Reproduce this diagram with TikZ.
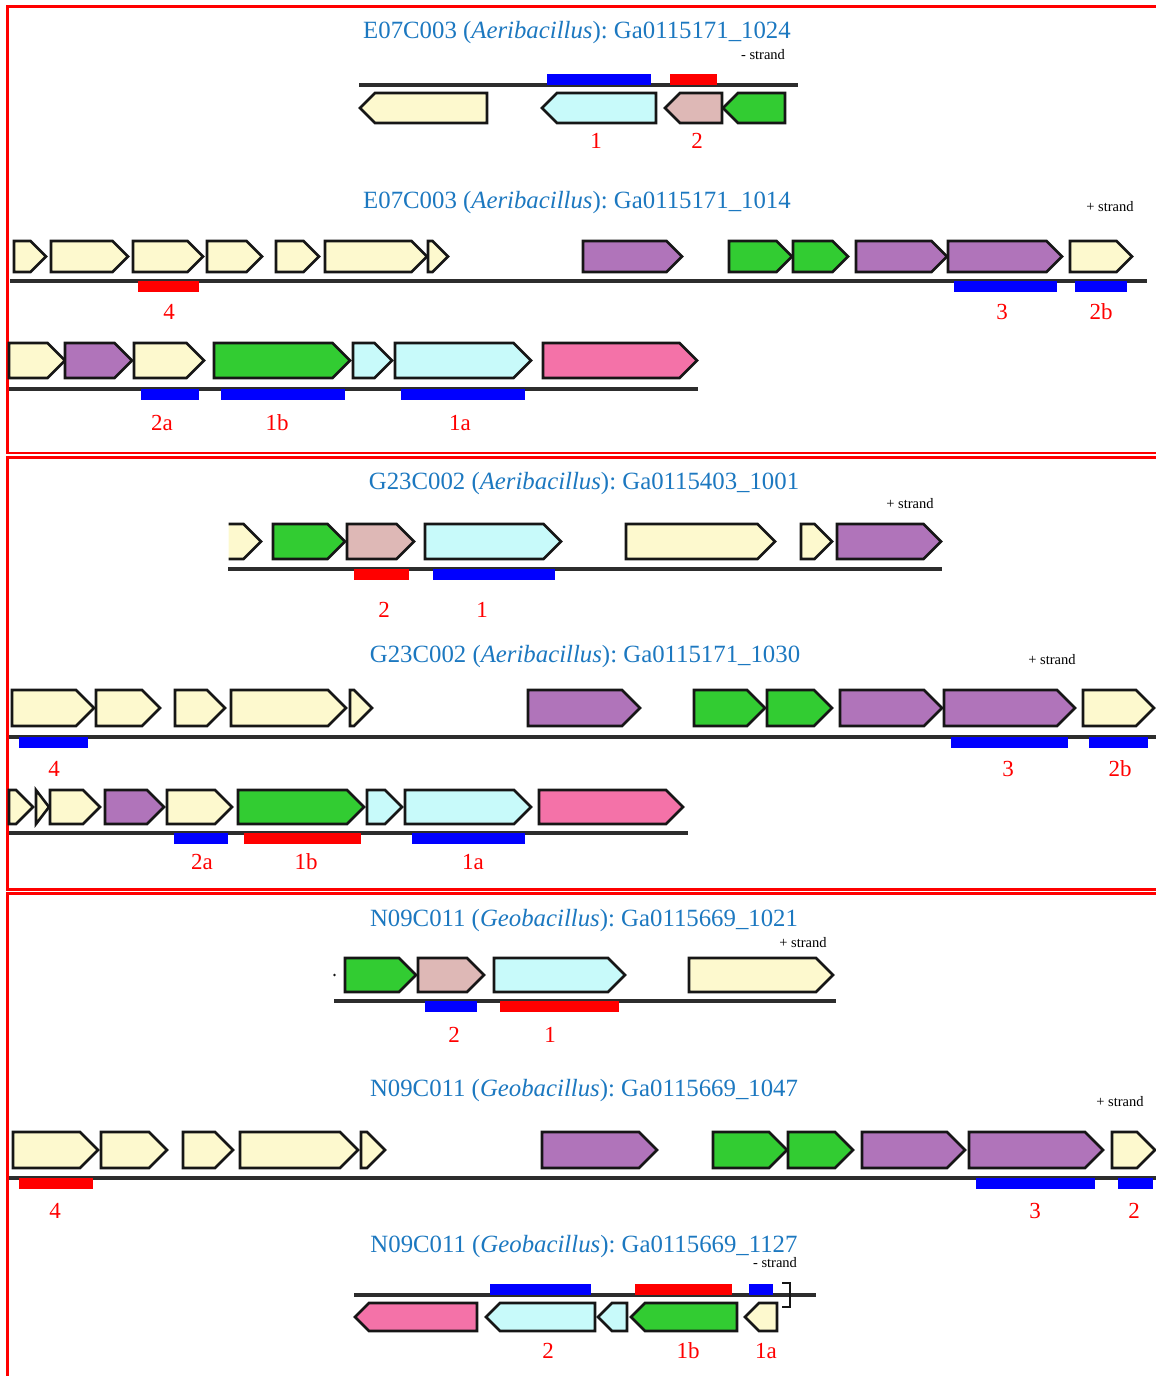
\documentclass[tikz,border=0pt]{standalone}
\usepackage{fontspec}
\setmainfont{Liberation Serif}
\frenchspacing

% gene fill colours
\definecolor{gyel}{RGB}{253,249,206}
\definecolor{gcyn}{RGB}{200,250,250}
\definecolor{gros}{RGB}{222,184,182}
\definecolor{ggrn}{RGB}{50,204,50}
\definecolor{gpur}{RGB}{176,116,186}
\definecolor{gmag}{RGB}{244,114,168}
% text and marks
\definecolor{ttl}{RGB}{28,120,192}
\definecolor{framered}{RGB}{255,0,0}
\definecolor{hitblue}{RGB}{0,0,255}
\definecolor{hitred}{RGB}{255,0,0}
\definecolor{edge}{RGB}{22,22,22}
\definecolor{contigc}{RGB}{45,45,45}

\tikzset{
  geneshape/.style={draw=edge, line width=2.6pt, line join=miter},
  contig/.style={draw=contigc, line width=3.4pt},
  title/.style={text=ttl, font=\fontsize{24.8}{28}\selectfont, inner sep=0pt},
  hitlabel/.style={text=hitred, font=\fontsize{23}{26}\selectfont, inner sep=0pt},
  strandlabel/.style={text=black, font=\fontsize{14.5}{16}\selectfont, inner sep=0pt},
  boxline/.style={draw=framered, line width=2.6pt},
}

% forward gene: x1, x2, top, height, colour
\newcommand\genefwd[5]{%
  \pgfmathsetmacro\gHead{min(#4/2,#2-#1)}%
  \draw[geneshape,fill=#5] (#1,#3) -- ({#2-\gHead},#3) -- (#2,{#3+#4/2})
     -- ({#2-\gHead},{#3+#4}) -- (#1,{#3+#4}) -- cycle;}
% reverse gene: x1 (tip), x2, top, height, colour
\newcommand\generev[5]{%
  \pgfmathsetmacro\gHead{min(#4/2,#2-#1)}%
  \draw[geneshape,fill=#5] (#1,{#3+#4/2}) -- ({#1+\gHead},#3) -- (#2,#3)
     -- (#2,{#3+#4}) -- ({#1+\gHead},{#3+#4}) -- cycle;}
% hit bar: x1, x2, top, colour
\newcommand\hitbar[4]{\fill[#4] (#1,#3) rectangle (#2,{#3+11});}

\begin{document}
\begin{tikzpicture}[x=1pt,y=-1pt]
\useasboundingbox (0,0) rectangle (1156,1376);
\clip (0,0) rectangle (1156,1376);

% ---------- panel frames ----------
\draw[boxline] (1180,6.5) -- (7.5,6.5) -- (7.5,453) -- (1180,453);
\draw[boxline] (1180,457.5) -- (7.5,457.5) -- (7.5,889.5) -- (1180,889.5);
\draw[boxline] (1180,893.5) -- (7.5,893.5) -- (7.5,1400);

% ================= panel 1 =================
\node[title] (t1) at (577,33) {E07C003 (\textit{Aeribacillus}): Ga0115171\_1024};
\node[strandlabel] (s1) at (763,55) {- strand};
\draw[contig] (359,85) -- (798,85);
\hitbar{547}{651}{74}{hitblue}
\hitbar{670}{717}{74}{hitred}
\foreach \a/\b/\c in {360/487/gyel,542/656/gcyn,665/722/gros,723/785/ggrn}
  \generev{\a}{\b}{93}{30}{\c};
\node[hitlabel] (p1a) at (596,141) {1};
\node[hitlabel] (p1b) at (697,141) {2};

\node[title] (t2) at (577,203) {E07C003 (\textit{Aeribacillus}): Ga0115171\_1014};
\node[strandlabel] (s2) at (1110,207) {+ strand};
\foreach \a/\b/\c in {14/46/gyel,51/128/gyel,133/203/gyel,207/262/gyel,276/319/gyel,
    325/427/gyel,428/448/gyel,583/682/gpur,729/792/ggrn,793/848/ggrn,856/947/gpur,
    948/1062/gpur,1070/1132/gyel}
  \genefwd{\a}{\b}{241}{31}{\c};
\draw[contig] (10,281) -- (1147,281);
\hitbar{138}{199}{281}{hitred}
\hitbar{954}{1057}{281}{hitblue}
\hitbar{1075}{1127}{281}{hitblue}
\node[hitlabel] (p2a) at (169,312) {4};
\node[hitlabel] (p2b) at (1002,312) {3};
\node[hitlabel] (p2c) at (1101,312) {2b};

\foreach \a/\b/\c in {9/65/gyel,65/132/gpur,134/204/gyel,214/350/ggrn,353/392/gcyn,
    395/531/gcyn,543/697/gmag}
  \genefwd{\a}{\b}{343}{35}{\c};
\draw[contig] (9,389) -- (698,389);
\hitbar{141}{199}{389}{hitblue}
\hitbar{221}{345}{389}{hitblue}
\hitbar{401}{525}{389}{hitblue}
\node[hitlabel] (p3a) at (162,423) {2a};
\node[hitlabel] (p3b) at (277,423) {1b};
\node[hitlabel] (p3c) at (460,423) {1a};

% ================= panel 2 =================
\node[title] (t3) at (584,484) {G23C002 (\textit{Aeribacillus}): Ga0115403\_1001};
\node[strandlabel] (s3) at (910,504) {+ strand};
\begin{scope}
  \clip (228.5,500) rectangle (300,600);
  \genefwd{215}{261}{524}{35}{gyel}
\end{scope}
\foreach \a/\b/\c in {273/345/ggrn,347/414/gros,425/561/gcyn,626/775/gyel,801/832/gyel,
    837/941/gpur}
  \genefwd{\a}{\b}{524}{35}{\c};
\draw[contig] (228,569) -- (942,569);
\hitbar{354}{409}{569}{hitred}
\hitbar{433}{555}{569}{hitblue}
\node[hitlabel] (p4a) at (384,610) {2};
\node[hitlabel] (p4b) at (482,610) {1};

\node[title] (t4) at (585,657) {G23C002 (\textit{Aeribacillus}): Ga0115171\_1030};
\node[strandlabel] (s4) at (1052,660) {+ strand};
\foreach \a/\b/\c in {12/94/gyel,96/160/gyel,175/225/gyel,231/346/gyel,350/372/gyel,
    528/640/gpur,694/765/ggrn,767/832/ggrn,840/942/gpur,944/1075/gpur,1083/1154/gyel}
  \genefwd{\a}{\b}{690}{36}{\c};
\draw[contig] (9,737) -- (1160,737);
\hitbar{19}{88}{737}{hitblue}
\hitbar{951}{1068}{737}{hitblue}
\hitbar{1089}{1148}{737}{hitblue}
\node[hitlabel] (p5a) at (54,769) {4};
\node[hitlabel] (p5b) at (1008,769) {3};
\node[hitlabel] (p5c) at (1120,769) {2b};

\foreach \a/\b/\c in {9/33/gyel,36/49/gyel,50/100/gyel,105/164/gpur,167/232/gyel,
    238/364/ggrn,367/402/gcyn,405/531/gcyn,539/683/gmag}
  \genefwd{\a}{\b}{790}{34}{\c};
\draw[contig] (9,833) -- (688,833);
\hitbar{174}{228}{833}{hitblue}
\hitbar{244}{361}{833}{hitred}
\hitbar{412}{525}{833}{hitblue}
\node[hitlabel] (p6a) at (202,862) {2a};
\node[hitlabel] (p6b) at (306,862) {1b};
\node[hitlabel] (p6c) at (473,862) {1a};

% ================= panel 3 =================
\node[title] (t5) at (584,921) {N09C011 (\textit{Geobacillus}): Ga0115669\_1021};
\node[strandlabel] (s5) at (803,943) {+ strand};
\fill[edge] (334.5,975) circle (1.4);
\foreach \a/\b/\c in {345/416/ggrn,418/484/gros,494/625/gcyn,689/833/gyel}
  \genefwd{\a}{\b}{958}{34}{\c};
\draw[contig] (334,1001) -- (836,1001);
\hitbar{425}{477}{1001}{hitblue}
\hitbar{500}{619}{1001}{hitred}
\node[hitlabel] (p7a) at (454,1035) {2};
\node[hitlabel] (p7b) at (550,1035) {1};

\node[title] (t6) at (584,1091) {N09C011 (\textit{Geobacillus}): Ga0115669\_1047};
\node[strandlabel] (s6) at (1120,1102) {+ strand};
\foreach \a/\b/\c in {13/98/gyel,101/167/gyel,183/233/gyel,240/358/gyel,361/385/gyel,
    542/657/gpur,713/787/ggrn,788/853/ggrn,862/965/gpur,969/1103/gpur,1112/1155/gyel}
  \genefwd{\a}{\b}{1132}{36}{\c};
\draw[contig] (9,1178) -- (1160,1178);
\hitbar{19}{93}{1178}{hitred}
\hitbar{976}{1095}{1178}{hitblue}
\hitbar{1118}{1153}{1178}{hitblue}
\node[hitlabel] (p8a) at (55,1211) {4};
\node[hitlabel] (p8b) at (1035,1211) {3};
\node[hitlabel] (p8c) at (1134,1211) {2};

\node[title] (t7) at (584,1247) {N09C011 (\textit{Geobacillus}): Ga0115669\_1127};
\node[strandlabel] (s7) at (775,1263) {- strand};
\draw[contig] (354,1295) -- (816,1295);
\hitbar{490}{591}{1284}{hitblue}
\hitbar{635}{732}{1284}{hitred}
\hitbar{749}{773}{1284}{hitblue}
\draw[draw=edge, line width=2.6pt] (782,1283) -- (790,1283) -- (790,1307) -- (782,1307);
\foreach \a/\b/\c in {355/477/gmag,486/595/gcyn,598/627/gcyn,631/737/ggrn,745/777/gyel}
  \generev{\a}{\b}{1303}{28}{\c};
\node[hitlabel] (p9a) at (548,1351) {2};
\node[hitlabel] (p9b) at (688,1351) {1b};
\node[hitlabel] (p9c) at (766,1351) {1a};
\end{tikzpicture}
\end{document}
